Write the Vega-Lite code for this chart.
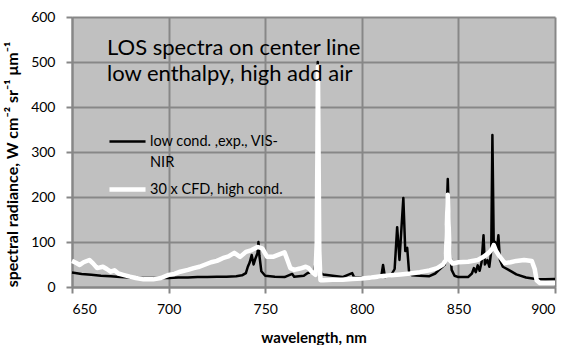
{
  "$schema": "https://vega.github.io/schema/vega-lite/v6.json",
  "width": 483,
  "height": 270,
  "autosize": {"type": "none"},
  "padding": {"left": 72, "top": 17, "right": 12, "bottom": 58},
  "background": "white",
  "config": {
    "view": {"fill": "#c0c0c0", "stroke": null},
    "font": "Lato",
    "style": {"guide-label": {"lineHeight": 21}},
    "axis": {
      "gridColor": "#878787", "gridWidth": 2, "gridOpacity": 1,
      "domainColor": "#878787", "domainWidth": 2,
      "tickColor": "#878787", "tickWidth": 2, "tickSize": 6,
      "labelFont": "Lato", "labelFontSize": 14, "labelColor": "#000000",
      "titleFont": "Lato", "titleFontWeight": "bold", "titleColor": "#000000"
    }
  },
  "title": {
    "text": ["LOS spectra on center line", "low enthalpy, high add air"],
    "anchor": "start", "frame": "group", "orient": "top",
    "offset": 0, "baseline": "top", "dx": 35, "dy": 76,
    "fontSize": 22, "fontWeight": "normal", "font": "Lato", "lineHeight": 26, "color": "#000000"
  },
  "datasets": {
    "exp": [
      {"wl": 650, "v": 32, "series": "low cond. ,exp., VIS-NIR"},
      {"wl": 655, "v": 29, "series": "low cond. ,exp., VIS-NIR"},
      {"wl": 660, "v": 27, "series": "low cond. ,exp., VIS-NIR"},
      {"wl": 665, "v": 25, "series": "low cond. ,exp., VIS-NIR"},
      {"wl": 670, "v": 24, "series": "low cond. ,exp., VIS-NIR"},
      {"wl": 675, "v": 22, "series": "low cond. ,exp., VIS-NIR"},
      {"wl": 680, "v": 21, "series": "low cond. ,exp., VIS-NIR"},
      {"wl": 685, "v": 20, "series": "low cond. ,exp., VIS-NIR"},
      {"wl": 690, "v": 20, "series": "low cond. ,exp., VIS-NIR"},
      {"wl": 695, "v": 20, "series": "low cond. ,exp., VIS-NIR"},
      {"wl": 700, "v": 20, "series": "low cond. ,exp., VIS-NIR"},
      {"wl": 705, "v": 21, "series": "low cond. ,exp., VIS-NIR"},
      {"wl": 710, "v": 21, "series": "low cond. ,exp., VIS-NIR"},
      {"wl": 715, "v": 22, "series": "low cond. ,exp., VIS-NIR"},
      {"wl": 720, "v": 22, "series": "low cond. ,exp., VIS-NIR"},
      {"wl": 725, "v": 23, "series": "low cond. ,exp., VIS-NIR"},
      {"wl": 730, "v": 23, "series": "low cond. ,exp., VIS-NIR"},
      {"wl": 735, "v": 24, "series": "low cond. ,exp., VIS-NIR"},
      {"wl": 738, "v": 26, "series": "low cond. ,exp., VIS-NIR"},
      {"wl": 740, "v": 31, "series": "low cond. ,exp., VIS-NIR"},
      {"wl": 741, "v": 45, "series": "low cond. ,exp., VIS-NIR"},
      {"wl": 742, "v": 55, "series": "low cond. ,exp., VIS-NIR"},
      {"wl": 743, "v": 71, "series": "low cond. ,exp., VIS-NIR"},
      {"wl": 744, "v": 50, "series": "low cond. ,exp., VIS-NIR"},
      {"wl": 745, "v": 64, "series": "low cond. ,exp., VIS-NIR"},
      {"wl": 746, "v": 75, "series": "low cond. ,exp., VIS-NIR"},
      {"wl": 746.5, "v": 100, "series": "low cond. ,exp., VIS-NIR"},
      {"wl": 747, "v": 70, "series": "low cond. ,exp., VIS-NIR"},
      {"wl": 748, "v": 35, "series": "low cond. ,exp., VIS-NIR"},
      {"wl": 750, "v": 25, "series": "low cond. ,exp., VIS-NIR"},
      {"wl": 755, "v": 23, "series": "low cond. ,exp., VIS-NIR"},
      {"wl": 760, "v": 22, "series": "low cond. ,exp., VIS-NIR"},
      {"wl": 764, "v": 29, "series": "low cond. ,exp., VIS-NIR"},
      {"wl": 765, "v": 23, "series": "low cond. ,exp., VIS-NIR"},
      {"wl": 770, "v": 25, "series": "low cond. ,exp., VIS-NIR"},
      {"wl": 772, "v": 31, "series": "low cond. ,exp., VIS-NIR"},
      {"wl": 775, "v": 34, "series": "low cond. ,exp., VIS-NIR"},
      {"wl": 776.5, "v": 60, "series": "low cond. ,exp., VIS-NIR"},
      {"wl": 777.2, "v": 500, "series": "low cond. ,exp., VIS-NIR"},
      {"wl": 778, "v": 60, "series": "low cond. ,exp., VIS-NIR"},
      {"wl": 779, "v": 30, "series": "low cond. ,exp., VIS-NIR"},
      {"wl": 780, "v": 28, "series": "low cond. ,exp., VIS-NIR"},
      {"wl": 785, "v": 25, "series": "low cond. ,exp., VIS-NIR"},
      {"wl": 790, "v": 22, "series": "low cond. ,exp., VIS-NIR"},
      {"wl": 795, "v": 31, "series": "low cond. ,exp., VIS-NIR"},
      {"wl": 796, "v": 22, "series": "low cond. ,exp., VIS-NIR"},
      {"wl": 800, "v": 21, "series": "low cond. ,exp., VIS-NIR"},
      {"wl": 805, "v": 20, "series": "low cond. ,exp., VIS-NIR"},
      {"wl": 810, "v": 22, "series": "low cond. ,exp., VIS-NIR"},
      {"wl": 811, "v": 49, "series": "low cond. ,exp., VIS-NIR"},
      {"wl": 812, "v": 22, "series": "low cond. ,exp., VIS-NIR"},
      {"wl": 815, "v": 25, "series": "low cond. ,exp., VIS-NIR"},
      {"wl": 817, "v": 40, "series": "low cond. ,exp., VIS-NIR"},
      {"wl": 818.3, "v": 133, "series": "low cond. ,exp., VIS-NIR"},
      {"wl": 819.5, "v": 60, "series": "low cond. ,exp., VIS-NIR"},
      {"wl": 821.5, "v": 198, "series": "low cond. ,exp., VIS-NIR"},
      {"wl": 822.5, "v": 80, "series": "low cond. ,exp., VIS-NIR"},
      {"wl": 823.5, "v": 87, "series": "low cond. ,exp., VIS-NIR"},
      {"wl": 824.5, "v": 31, "series": "low cond. ,exp., VIS-NIR"},
      {"wl": 826, "v": 26, "series": "low cond. ,exp., VIS-NIR"},
      {"wl": 830, "v": 25, "series": "low cond. ,exp., VIS-NIR"},
      {"wl": 835, "v": 24, "series": "low cond. ,exp., VIS-NIR"},
      {"wl": 838, "v": 30, "series": "low cond. ,exp., VIS-NIR"},
      {"wl": 840, "v": 38, "series": "low cond. ,exp., VIS-NIR"},
      {"wl": 843, "v": 50, "series": "low cond. ,exp., VIS-NIR"},
      {"wl": 844.5, "v": 240, "series": "low cond. ,exp., VIS-NIR"},
      {"wl": 845.5, "v": 100, "series": "low cond. ,exp., VIS-NIR"},
      {"wl": 846.5, "v": 38, "series": "low cond. ,exp., VIS-NIR"},
      {"wl": 848, "v": 25, "series": "low cond. ,exp., VIS-NIR"},
      {"wl": 850, "v": 22, "series": "low cond. ,exp., VIS-NIR"},
      {"wl": 855, "v": 22, "series": "low cond. ,exp., VIS-NIR"},
      {"wl": 857, "v": 30, "series": "low cond. ,exp., VIS-NIR"},
      {"wl": 858, "v": 42, "series": "low cond. ,exp., VIS-NIR"},
      {"wl": 859, "v": 33, "series": "low cond. ,exp., VIS-NIR"},
      {"wl": 860, "v": 48, "series": "low cond. ,exp., VIS-NIR"},
      {"wl": 861, "v": 36, "series": "low cond. ,exp., VIS-NIR"},
      {"wl": 862, "v": 55, "series": "low cond. ,exp., VIS-NIR"},
      {"wl": 863, "v": 115, "series": "low cond. ,exp., VIS-NIR"},
      {"wl": 863.7, "v": 50, "series": "low cond. ,exp., VIS-NIR"},
      {"wl": 865, "v": 60, "series": "low cond. ,exp., VIS-NIR"},
      {"wl": 866, "v": 45, "series": "low cond. ,exp., VIS-NIR"},
      {"wl": 867, "v": 80, "series": "low cond. ,exp., VIS-NIR"},
      {"wl": 867.6, "v": 338, "series": "low cond. ,exp., VIS-NIR"},
      {"wl": 868.3, "v": 90, "series": "low cond. ,exp., VIS-NIR"},
      {"wl": 869, "v": 100, "series": "low cond. ,exp., VIS-NIR"},
      {"wl": 870, "v": 85, "series": "low cond. ,exp., VIS-NIR"},
      {"wl": 870.7, "v": 115, "series": "low cond. ,exp., VIS-NIR"},
      {"wl": 871.5, "v": 60, "series": "low cond. ,exp., VIS-NIR"},
      {"wl": 873, "v": 45, "series": "low cond. ,exp., VIS-NIR"},
      {"wl": 876, "v": 38, "series": "low cond. ,exp., VIS-NIR"},
      {"wl": 880, "v": 28, "series": "low cond. ,exp., VIS-NIR"},
      {"wl": 885, "v": 21, "series": "low cond. ,exp., VIS-NIR"},
      {"wl": 890, "v": 18, "series": "low cond. ,exp., VIS-NIR"},
      {"wl": 895, "v": 17, "series": "low cond. ,exp., VIS-NIR"},
      {"wl": 900, "v": 18, "series": "low cond. ,exp., VIS-NIR"}
    ],
    "cfd": [
      {"wl": 650, "v": 58, "series": "30 x CFD, high cond."},
      {"wl": 652, "v": 54, "series": "30 x CFD, high cond."},
      {"wl": 654, "v": 49, "series": "30 x CFD, high cond."},
      {"wl": 656, "v": 55, "series": "30 x CFD, high cond."},
      {"wl": 659, "v": 60, "series": "30 x CFD, high cond."},
      {"wl": 661, "v": 52, "series": "30 x CFD, high cond."},
      {"wl": 663, "v": 42, "series": "30 x CFD, high cond."},
      {"wl": 666, "v": 45, "series": "30 x CFD, high cond."},
      {"wl": 668, "v": 40, "series": "30 x CFD, high cond."},
      {"wl": 670, "v": 34, "series": "30 x CFD, high cond."},
      {"wl": 672, "v": 37, "series": "30 x CFD, high cond."},
      {"wl": 674, "v": 30, "series": "30 x CFD, high cond."},
      {"wl": 676.5, "v": 27, "series": "30 x CFD, high cond."},
      {"wl": 680, "v": 23, "series": "30 x CFD, high cond."},
      {"wl": 683, "v": 20, "series": "30 x CFD, high cond."},
      {"wl": 687, "v": 17, "series": "30 x CFD, high cond."},
      {"wl": 692, "v": 17, "series": "30 x CFD, high cond."},
      {"wl": 696, "v": 20, "series": "30 x CFD, high cond."},
      {"wl": 700, "v": 27, "series": "30 x CFD, high cond."},
      {"wl": 703, "v": 29, "series": "30 x CFD, high cond."},
      {"wl": 706, "v": 34, "series": "30 x CFD, high cond."},
      {"wl": 710, "v": 38, "series": "30 x CFD, high cond."},
      {"wl": 713, "v": 42, "series": "30 x CFD, high cond."},
      {"wl": 716, "v": 45, "series": "30 x CFD, high cond."},
      {"wl": 719, "v": 50, "series": "30 x CFD, high cond."},
      {"wl": 722, "v": 55, "series": "30 x CFD, high cond."},
      {"wl": 725, "v": 58, "series": "30 x CFD, high cond."},
      {"wl": 728, "v": 64, "series": "30 x CFD, high cond."},
      {"wl": 731, "v": 68, "series": "30 x CFD, high cond."},
      {"wl": 734, "v": 76, "series": "30 x CFD, high cond."},
      {"wl": 737, "v": 67, "series": "30 x CFD, high cond."},
      {"wl": 740, "v": 78, "series": "30 x CFD, high cond."},
      {"wl": 743, "v": 82, "series": "30 x CFD, high cond."},
      {"wl": 746, "v": 89, "series": "30 x CFD, high cond."},
      {"wl": 748.5, "v": 86, "series": "30 x CFD, high cond."},
      {"wl": 751, "v": 67, "series": "30 x CFD, high cond."},
      {"wl": 754, "v": 67, "series": "30 x CFD, high cond."},
      {"wl": 757, "v": 72, "series": "30 x CFD, high cond."},
      {"wl": 760, "v": 77, "series": "30 x CFD, high cond."},
      {"wl": 761.5, "v": 60, "series": "30 x CFD, high cond."},
      {"wl": 763, "v": 42, "series": "30 x CFD, high cond."},
      {"wl": 765, "v": 38, "series": "30 x CFD, high cond."},
      {"wl": 768, "v": 41, "series": "30 x CFD, high cond."},
      {"wl": 771, "v": 45, "series": "30 x CFD, high cond."},
      {"wl": 772.5, "v": 42, "series": "30 x CFD, high cond."},
      {"wl": 774, "v": 34, "series": "30 x CFD, high cond."},
      {"wl": 776, "v": 27, "series": "30 x CFD, high cond."},
      {"wl": 776.7, "v": 100, "series": "30 x CFD, high cond."},
      {"wl": 777.3, "v": 490, "series": "30 x CFD, high cond."},
      {"wl": 778, "v": 80, "series": "30 x CFD, high cond."},
      {"wl": 778.6, "v": 15, "series": "30 x CFD, high cond."},
      {"wl": 780, "v": 15, "series": "30 x CFD, high cond."},
      {"wl": 785, "v": 16, "series": "30 x CFD, high cond."},
      {"wl": 790, "v": 16, "series": "30 x CFD, high cond."},
      {"wl": 795, "v": 18, "series": "30 x CFD, high cond."},
      {"wl": 800, "v": 19, "series": "30 x CFD, high cond."},
      {"wl": 805, "v": 21, "series": "30 x CFD, high cond."},
      {"wl": 810, "v": 24, "series": "30 x CFD, high cond."},
      {"wl": 815, "v": 26, "series": "30 x CFD, high cond."},
      {"wl": 820, "v": 28, "series": "30 x CFD, high cond."},
      {"wl": 825, "v": 30, "series": "30 x CFD, high cond."},
      {"wl": 830, "v": 33, "series": "30 x CFD, high cond."},
      {"wl": 835, "v": 37, "series": "30 x CFD, high cond."},
      {"wl": 839, "v": 42, "series": "30 x CFD, high cond."},
      {"wl": 842, "v": 50, "series": "30 x CFD, high cond."},
      {"wl": 843.5, "v": 60, "series": "30 x CFD, high cond."},
      {"wl": 844.5, "v": 205, "series": "30 x CFD, high cond."},
      {"wl": 845.5, "v": 60, "series": "30 x CFD, high cond."},
      {"wl": 847, "v": 52, "series": "30 x CFD, high cond."},
      {"wl": 850, "v": 55, "series": "30 x CFD, high cond."},
      {"wl": 855, "v": 56, "series": "30 x CFD, high cond."},
      {"wl": 860, "v": 60, "series": "30 x CFD, high cond."},
      {"wl": 863, "v": 67, "series": "30 x CFD, high cond."},
      {"wl": 866, "v": 77, "series": "30 x CFD, high cond."},
      {"wl": 867.5, "v": 85, "series": "30 x CFD, high cond."},
      {"wl": 868.3, "v": 93, "series": "30 x CFD, high cond."},
      {"wl": 869.5, "v": 80, "series": "30 x CFD, high cond."},
      {"wl": 871, "v": 70, "series": "30 x CFD, high cond."},
      {"wl": 874, "v": 53, "series": "30 x CFD, high cond."},
      {"wl": 877, "v": 55, "series": "30 x CFD, high cond."},
      {"wl": 880, "v": 58, "series": "30 x CFD, high cond."},
      {"wl": 884, "v": 60, "series": "30 x CFD, high cond."},
      {"wl": 888, "v": 58, "series": "30 x CFD, high cond."},
      {"wl": 889.5, "v": 40, "series": "30 x CFD, high cond."},
      {"wl": 890.5, "v": 15, "series": "30 x CFD, high cond."},
      {"wl": 892, "v": 9, "series": "30 x CFD, high cond."},
      {"wl": 895, "v": 9, "series": "30 x CFD, high cond."},
      {"wl": 900, "v": 9, "series": "30 x CFD, high cond."}
    ]
  },
  "encoding": {
    "x": {
      "field": "wl", "type": "quantitative",
      "scale": {"domain": [650, 900], "nice": false, "zero": false},
      "axis": {"values": [650, 700, 750, 800, 850, 900], "title": "wavelength, nm", "titleFontSize": 15, "labelPadding": 9, "titlePadding": 14}
    },
    "y": {
      "field": "v", "type": "quantitative",
      "scale": {"domain": [0, 600], "nice": false},
      "axis": {"values": [0, 100, 200, 300, 400, 500, 600], "title": "spectral radiance,  W cm⁻² sr⁻¹ μm⁻¹", "titleFontSize": 16, "labelPadding": 11, "titleX": -60, "titleY": 147, "titleAlign": "center", "titleBaseline": "middle", "titleAngle": -90}
    },
    "color": {
      "field": "series", "type": "nominal",
      "scale": {"domain": ["low cond. ,exp., VIS-NIR", "30 x CFD, high cond."], "range": ["#000000", "#ffffff"]},
      "legend": {
        "title": null, "orient": "none", "legendX": 35, "legendY": 105,
        "symbolType": "stroke", "symbolSize": 1300, "symbolStrokeWidth": 3,
        "labelFont": "Lato", "labelFontSize": 14.5, "labelColor": "#000000", "labelLimit": 300,
        "labelOffset": 2, "rowPadding": 0,
        "labelExpr": "datum.label == 'low cond. ,exp., VIS-NIR' ? ['low cond. ,exp., VIS-', 'NIR'] : datum.label"
      }
    },
    "strokeWidth": {
      "field": "series", "type": "nominal",
      "scale": {"domain": ["low cond. ,exp., VIS-NIR", "30 x CFD, high cond."], "range": [2.5, 4.5]},
      "legend": null
    }
  },
  "layer": [
    {"data": {"name": "exp"}, "mark": {"type": "line", "strokeJoin": "round"}},
    {"data": {"name": "cfd"}, "mark": {"type": "line", "strokeJoin": "round"}}
  ]
}
